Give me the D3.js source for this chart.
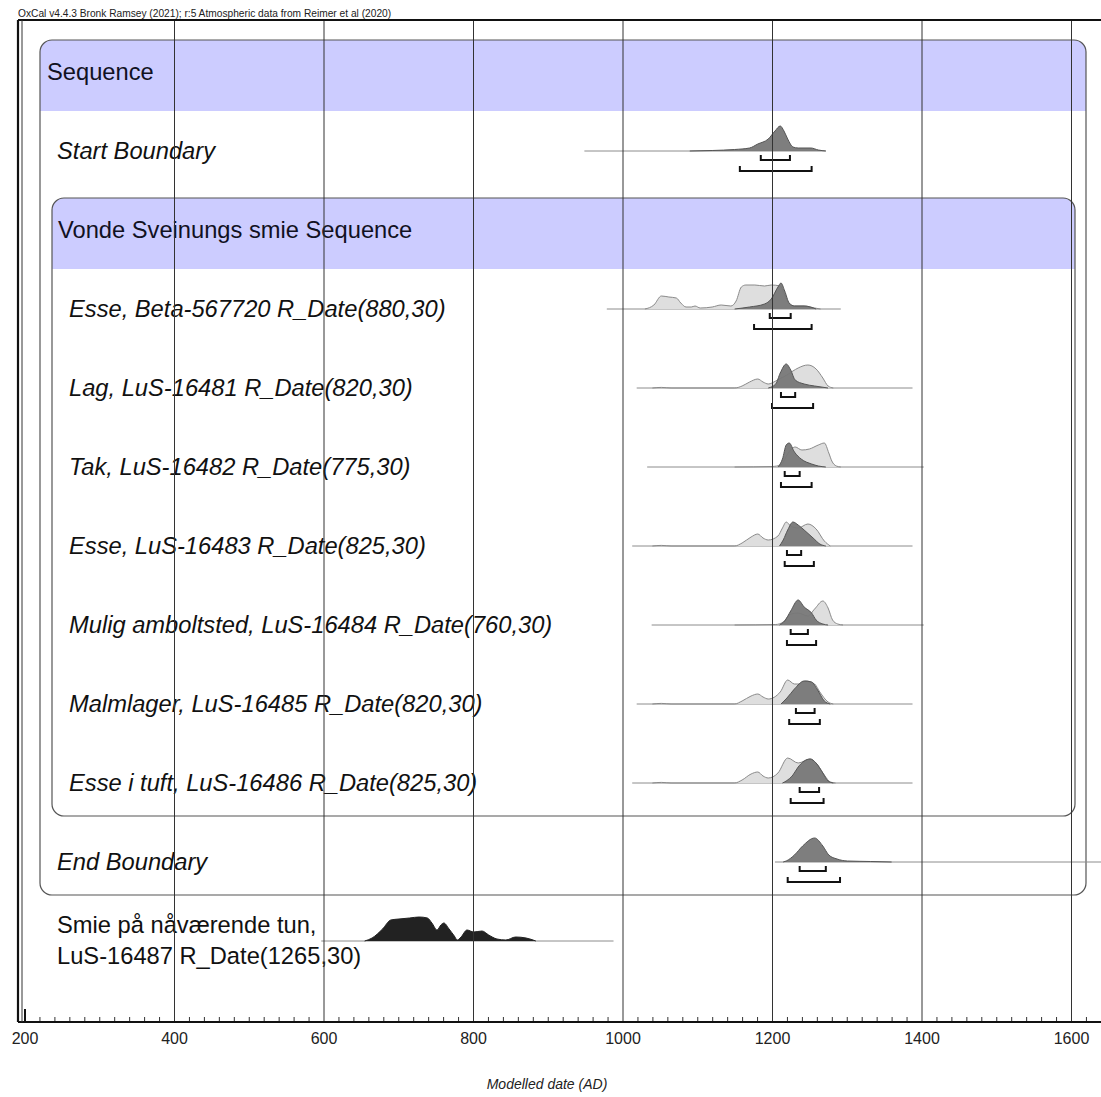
<!DOCTYPE html>
<html>
<head>
<meta charset="utf-8">
<script src="https://cdn.jsdelivr.net/npm/d3@7"></script>
<style>
  body { margin: 0; background: #fff; }
  svg text { font-family: "Liberation Sans", Arial, sans-serif; }
</style>
</head>
<body>
<svg width="1101" height="1097"></svg>
<script>
// ---- data ----
const headerText = "OxCal v4.4.3 Bronk Ramsey (2021); r:5 Atmospheric data from Reimer et al (2020)";
const axisTitle = "Modelled date (AD)";
const majorTicks = [200, 400, 600, 800, 1000, 1200, 1400, 1600];

const seqLabel = "Sequence";
const innerSeqLabel = "Vonde Sveinungs smie Sequence";

// row labels ("|" splits a two-line label)
const rowNames = [
  "Start Boundary",
  "Esse, Beta-567720 R_Date(880,30)",
  "Lag, LuS-16481 R_Date(820,30)",
  "Tak, LuS-16482 R_Date(775,30)",
  "Esse, LuS-16483 R_Date(825,30)",
  "Mulig amboltsted, LuS-16484 R_Date(760,30)",
  "Malmlager, LuS-16485 R_Date(820,30)",
  "Esse i tuft, LuS-16486 R_Date(825,30)",
  "End Boundary",
  "Smie på nåværende tun,|LuS-16487 R_Date(1265,30)"
];
const rowSlots = [1, 3, 4, 5, 6, 7, 8, 9, 10, 11];
const rowIndent = [0, 1, 1, 1, 1, 1, 1, 1, 0, 0];
const rowItalic = [true, true, true, true, true, true, true, true, true, false];

// span of the thin base line (years AD)
const baseSpans = [
  [949, 1272], [979, 1292], [1019, 1388], [1033, 1403], [1013, 1388],
  [1039, 1403], [1019, 1388], [1013, 1388], [1204, 1700], [597, 988]
];

// unmodelled likelihoods (relative probability)
const likelihoods = [
  null,
  [[1030,0],[1042,4],[1052,13],[1062,12],[1072,11],[1078,6],[1085,2],[1092,2],[1097,3],[1104,1],[1120,2],[1132,4],[1145,3],[1152,8],[1159,22],[1165,24],[1177,24],[1190,23],[1199,24],[1211,23],[1217,14],[1223,5],[1230,3],[1243,3],[1257,1],[1265,0]],
  [[1040,0],[1052,0.6],[1065,0],[1150,0],[1160,2],[1170,6],[1181,9],[1188,6],[1195,4],[1205,7],[1212,10],[1220,13],[1228,17],[1235,20],[1248,23],[1259,19],[1268,10],[1275,2],[1282,0]],
  [[1150,0],[1200,0.5],[1212,2],[1220,12],[1226,18],[1231,20],[1240,17],[1250,18],[1262,22],[1270,24],[1276,14],[1280,6],[1286,1],[1292,0]],
  [[1040,0],[1052,0.6],[1065,0],[1150,0],[1160,3],[1172,9],[1181,12],[1188,8],[1195,6],[1208,10],[1214,18],[1219,24],[1225,20],[1235,18],[1248,22],[1259,17],[1270,5],[1278,0]],
  [[1150,0],[1205,0.5],[1215,3],[1225,11],[1235,12],[1248,9],[1257,16],[1268,24],[1275,17],[1281,5],[1288,1],[1295,0]],
  [[1040,0],[1052,0.6],[1065,0],[1150,0],[1160,3],[1172,8],[1181,10],[1188,7],[1195,5],[1211,12],[1221,24],[1230,20],[1235,20],[1245,23],[1257,20],[1264,12],[1275,2],[1282,0]],
  [[1040,0],[1052,0.6],[1065,0],[1150,0],[1160,3],[1172,9],[1181,11],[1188,7],[1195,5],[1208,10],[1221,25],[1235,20],[1251,24],[1261,18],[1270,8],[1278,1],[1285,0]],
  null,
  [[655,0],[665,3],[679,12],[690,21],[701,22],[715,23],[728,24],[739,23],[745,18],[752,11],[757,16],[761,18],[768,12],[775,5],[779,1],[784,4],[792,11],[801,9],[812,10],[821,6],[832,2],[844,1],[857,4],[871,3],[884,0]]
];

// modelled posteriors (relative probability)
const posteriors = [
  [[1090,0],[1120,0.5],[1150,1.5],[1170,3],[1181,7],[1195,12],[1204,20],[1211,25],[1216,20],[1221,12],[1228,4],[1235,3],[1252,3],[1262,1],[1272,0]],
  [[1150,0],[1170,2],[1190,5],[1199,10],[1208,22],[1212,26],[1217,18],[1223,6],[1230,3],[1243,3],[1259,0]],
  [[1195,0],[1205,4],[1211,15],[1219,24],[1225,18],[1231,8],[1243,4],[1257,2],[1275,0]],
  [[1208,0],[1214,8],[1219,22],[1223,24],[1230,15],[1239,8],[1253,3],[1262,1],[1272,0]],
  [[1210,0],[1215,6],[1221,16],[1228,24],[1235,21],[1243,16],[1255,8],[1264,2],[1272,0]],
  [[1210,0],[1217,4],[1225,14],[1235,25],[1243,18],[1253,12],[1259,5],[1268,1],[1275,0]],
  [[1212,0],[1220,6],[1230,15],[1243,23],[1253,22],[1261,14],[1270,3],[1278,0]],
  [[1214,0],[1219,2],[1228,8],[1235,16],[1251,24],[1259,20],[1268,10],[1275,2],[1282,0]],
  [[1215,0],[1219,1],[1230,7],[1241,16],[1257,24],[1268,16],[1276,7],[1287,3],[1301,1],[1332,0.5],[1360,0]],
  null
];

// 68.2% and 95.4% ranges
const ranges68 = [[1185,1224],[1197,1225],[1212,1231],[1217,1237],[1220,1239],[1225,1248],[1232,1257],[1237,1263],[1237,1272], null];
const ranges95 = [[1157,1253],[1176,1253],[1200,1255],[1212,1253],[1217,1256],[1220,1259],[1223,1264],[1225,1269],[1221,1291], null];

// ---- drawing ----
const svg = d3.select("svg");
const W = 1101;

const x = d3.scaleLinear().domain([200, 1600]).range([24.5, 1071]);
const slot = d3.scaleLinear().domain([0, 11]).range([72, 941]);
const dens = d3.scaleLinear().domain([0, 25]).range([0, 25]);

const frame = { left: 18, top: 20, bottom: 1022 };
const labelSize = 23.7;

// header
svg.append("text")
  .attr("x", 18).attr("y", 17)
  .attr("font-size", 10.2)
  .attr("fill", "#222")
  .text(headerText);

const blue = "#ccccff";
function bandPath(x0, x1, y0, y1, r) {
  return `M${x0},${y1}V${y0 + r}A${r},${r} 0 0 1 ${x0 + r},${y0}H${x1 - r}A${r},${r} 0 0 1 ${x1},${y0 + r}V${y1}Z`;
}

const boxes = [
  { x0: 40, x1: 1086, s0: 0, s1: 10, label: seqLabel, tx: 47 },
  { x0: 52, x1: 1075, s0: 2, s1: 9, label: innerSeqLabel, tx: 58 }
];

boxes.forEach(b => {
  const y0 = slot(b.s0) - 32, y1 = slot(b.s1) + 33;
  svg.append("path")
    .attr("d", bandPath(b.x0, b.x1, y0, slot(b.s0) + 39, 12))
    .attr("fill", blue);
  svg.append("rect")
    .attr("x", b.x0).attr("y", y0)
    .attr("width", b.x1 - b.x0).attr("height", y1 - y0)
    .attr("rx", 12)
    .attr("fill", "none")
    .attr("stroke", "#555")
    .attr("stroke-width", 1.2);
  svg.append("text")
    .attr("x", b.tx).attr("y", slot(b.s0) + 8)
    .attr("font-size", labelSize)
    .attr("fill", "#111122")
    .text(b.label);
});

// row labels
rowNames.forEach((name, i) => {
  const lines = name.split("|");
  const cy = slot(rowSlots[i]);
  const t = svg.append("text")
    .attr("x", rowIndent[i] ? 69 : 57)
    .attr("font-size", labelSize)
    .attr("font-style", rowItalic[i] ? "italic" : "normal")
    .attr("fill", "#111");
  if (lines.length === 1) {
    t.attr("y", cy + 8).text(name);
  } else {
    t.attr("y", cy - 8).text(lines[0]);
    svg.append("text")
      .attr("x", 57).attr("y", cy + 23)
      .attr("font-size", labelSize)
      .attr("fill", "#111")
      .text(lines[1]);
  }
});

const area = d3.area()
  .curve(d3.curveMonotoneX)
  .x(d => x(d[0]));
const line = d3.line()
  .curve(d3.curveMonotoneX)
  .x(d => x(d[0]));

rowNames.forEach((name, i) => {
  const base = slot(rowSlots[i]);
  const g = svg.append("g");

  g.append("line")
    .attr("x1", x(baseSpans[i][0])).attr("x2", Math.min(W, x(baseSpans[i][1])))
    .attr("y1", base).attr("y2", base)
    .attr("stroke", "#8c8c8c").attr("stroke-width", 1);

  const isLast = i === rowNames.length - 1;
  area.y0(base).y1(d => base - dens(d[1]));
  line.y(d => base - dens(d[1]));
  if (likelihoods[i]) {
    g.append("path")
      .attr("d", area(likelihoods[i]))
      .attr("fill", isLast ? "#222" : "#dedede");
    g.append("path")
      .attr("d", line(likelihoods[i]))
      .attr("fill", "none")
      .attr("stroke", isLast ? "#222" : "#8a8a8a")
      .attr("stroke-width", 1);
  }
  if (posteriors[i]) {
    g.append("path")
      .attr("d", area(posteriors[i]))
      .attr("fill", "#777")
      .attr("fill-opacity", 0.95);
    g.append("path")
      .attr("d", line(posteriors[i]))
      .attr("fill", "none")
      .attr("stroke", "#555")
      .attr("stroke-width", 1);
  }

  [[ranges68[i], 9], [ranges95[i], 20]].forEach(([r, dy]) => {
    if (!r) return;
    const y = base + dy;
    g.append("path")
      .attr("d", `M${x(r[0])},${y - 5}V${y}H${x(r[1])}V${y - 5}`)
      .attr("fill", "none")
      .attr("stroke", "#111")
      .attr("stroke-width", 2);
  });
});

// grid lines (drawn on top like OxCal)
svg.append("g")
  .attr("transform", `translate(0,${frame.bottom})`)
  .call(d3.axisTop(x)
    .tickValues(majorTicks.filter(d => d > 200))
    .tickSize(frame.bottom - frame.top)
    .tickFormat(""))
  .call(g => g.select(".domain").remove())
  .call(g => g.selectAll("line").attr("stroke", "#333").attr("stroke-width", 1));

// minor ticks
const minor = d3.range(220, 1640, 20).filter(d => d % 200 !== 0);
svg.append("g")
  .attr("transform", `translate(0,${frame.bottom})`)
  .call(d3.axisTop(x).tickValues(minor).tickSize(5).tickFormat(""))
  .call(g => g.select(".domain").remove())
  .call(g => g.selectAll("line").attr("stroke", "#333"));

// 200 tick
svg.append("g")
  .attr("transform", `translate(0,${frame.bottom})`)
  .call(d3.axisTop(x).tickValues([200]).tickSize(13).tickFormat(""))
  .call(g => g.select(".domain").remove())
  .call(g => g.selectAll("line").attr("stroke", "#111").attr("stroke-width", 2));

// tick labels
svg.append("g")
  .attr("transform", `translate(0,${frame.bottom})`)
  .call(d3.axisBottom(x).tickValues(majorTicks).tickSize(0).tickPadding(11).tickFormat(d3.format("d")))
  .call(g => g.select(".domain").remove())
  .call(g => g.selectAll("text")
    .attr("font-size", 16)
    .attr("fill", "#222")
    .attr("font-family", "Liberation Sans, Arial, sans-serif"));

// frame
svg.append("line")
  .attr("x1", frame.left).attr("x2", W).attr("y1", frame.top).attr("y2", frame.top)
  .attr("stroke", "#111").attr("stroke-width", 2);
svg.append("line")
  .attr("x1", frame.left).attr("x2", W).attr("y1", frame.bottom).attr("y2", frame.bottom)
  .attr("stroke", "#111").attr("stroke-width", 2.2);
svg.append("line")
  .attr("x1", frame.left).attr("x2", frame.left).attr("y1", frame.top).attr("y2", frame.bottom)
  .attr("stroke", "#111").attr("stroke-width", 2.2);
svg.append("line")
  .attr("x1", frame.left + 4).attr("x2", frame.left + 4).attr("y1", frame.top).attr("y2", frame.bottom)
  .attr("stroke", "#333").attr("stroke-width", 1);

// axis title
svg.append("text")
  .attr("x", 547).attr("y", 1089)
  .attr("text-anchor", "middle")
  .attr("font-size", 14)
  .attr("font-style", "italic")
  .attr("fill", "#222")
  .text(axisTitle);
</script>
</body>
</html>
